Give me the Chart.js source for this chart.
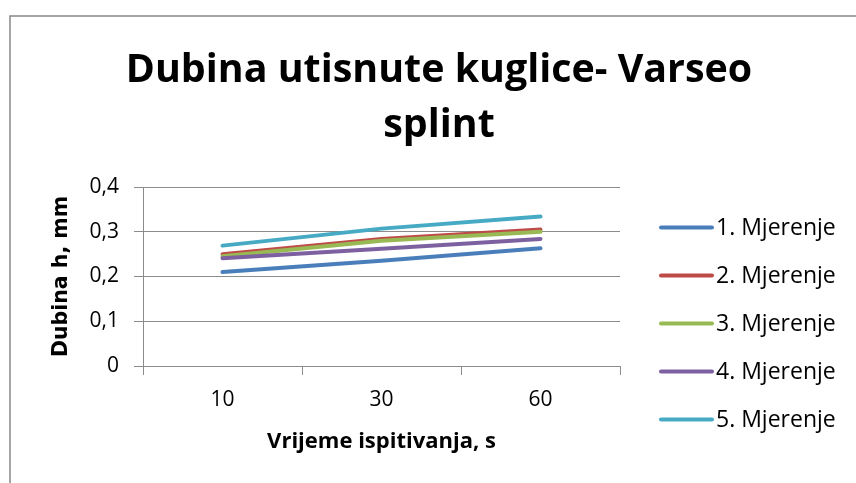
<!DOCTYPE html>
<html><head><meta charset="utf-8">
<script src="https://cdn.jsdelivr.net/npm/chart.js@4"></script>
<style>html,body{margin:0;padding:0;background:#fff}#wrap{width:856px;height:483px;position:relative}</style>
</head><body><div id="wrap"><canvas id="c"></canvas></div>
<script>
const categories = ['10', '30', '60'];
const seriesNames = ['1. Mjerenje', '2. Mjerenje', '3. Mjerenje', '4. Mjerenje', '5. Mjerenje'];
const mjerenje1 = [0.21, 0.235, 0.263];
const mjerenje2 = [0.25, 0.284, 0.305];
const mjerenje3 = [0.245, 0.28, 0.30];
const mjerenje4 = [0.241, 0.262, 0.284];
const mjerenje5 = [0.269, 0.307, 0.334];
const yTickLabels = ['0', '0,1', '0,2', '0,3', '0,4'];
const titleLines = ['Dubina utisnute kuglice- Varseo', 'splint'];
const xTitle = 'Vrijeme ispitivanja, s';
const yTitle = 'Dubina h, mm';

const colors = ['#4A7EBB', '#BE4B48', '#98B954', '#7D60A0', '#46AAC5'];
const values = [mjerenje1, mjerenje2, mjerenje3, mjerenje4, mjerenje5];
const FONT = '"Open Sans", Lato, sans-serif';
const GRID = '#8c8c8c';

const frame = {
  id: 'frame',
  beforeDraw(chart) {
    const ctx = chart.ctx;
    ctx.save();
    ctx.fillStyle = '#fff';
    ctx.fillRect(0, 0, chart.width, chart.height);
    ctx.strokeStyle = '#888';
    ctx.lineWidth = 1.5;
    ctx.beginPath();
    ctx.moveTo(10, chart.height);
    ctx.lineTo(10, 16);
    ctx.lineTo(chart.width, 16);
    ctx.stroke();
    ctx.restore();
  },
  afterDraw(chart) {
    const ctx = chart.ctx;
    ctx.save();
    // title, sized to the reference width
    ctx.fillStyle = '#000';
    ctx.textAlign = 'center';
    ctx.textBaseline = 'alphabetic';
    ctx.font = 'bold 40px ' + FONT;
    const w = ctx.measureText(titleLines[0]).width;
    const size = Math.min(40, 40 * 627 / w);
    ctx.font = 'bold ' + size.toFixed(1) + 'px ' + FONT;
    ctx.fillText(titleLines[0], 439, 82);
    ctx.fillText(titleLines[1], 439, 137);
    // legend
    ctx.font = '23px ' + FONT;
    ctx.textAlign = 'left';
    ctx.textBaseline = 'middle';
    chart.data.datasets.forEach((ds, i) => {
      const y = 227.5 + i * 48;
      ctx.strokeStyle = ds.borderColor;
      ctx.lineWidth = 4;
      ctx.lineCap = 'round';
      ctx.beginPath();
      ctx.moveTo(661, y);
      ctx.lineTo(712, y);
      ctx.stroke();
      ctx.fillStyle = '#000';
      ctx.fillText(ds.label, 716, y + 1);
    });
    ctx.restore();
  }
};

new Chart(document.getElementById('c'), {
  type: 'line',
  data: {
    labels: categories,
    datasets: values.map((v, i) => ({
      label: seriesNames[i],
      data: v,
      borderColor: colors[i],
      backgroundColor: colors[i],
      borderWidth: 4,
      borderCapStyle: 'round',
      pointRadius: 0,
      tension: 0,
      order: -i
    }))
  },
  options: {
    responsive: true,
    maintainAspectRatio: false,
    animation: false,
    events: [],
    layout: { padding: { left: 10, top: 187, right: 236, bottom: 0 } },
    plugins: { legend: { display: false }, title: { display: false }, tooltip: { enabled: false } },
    scales: {
      x: {
        type: 'category',
        offset: true,
        grid: { display: true, drawOnChartArea: false, drawTicks: true, tickLength: 9, color: GRID, offset: true },
        border: { color: GRID },
        ticks: { color: '#000', font: { family: FONT, size: 21 }, padding: 12 },
        title: { display: true, text: xTitle, color: '#000', font: { family: FONT, size: 22, weight: 'bold' }, padding: { top: 0, bottom: 28 } },
        afterFit(s) { s.height = 483 - 366; }
      },
      y: {
        min: 0, max: 0.4,
        ticks: { stepSize: 0.1, color: '#000', font: { family: FONT, size: 21 }, padding: 15,
          callback: (v, i) => yTickLabels[i] },
        grid: { color: GRID, tickLength: 9 },
        border: { color: GRID },
        title: { display: true, text: yTitle, color: '#000', font: { family: '"DejaVu Sans", sans-serif', size: 20.5, weight: 'bold' }, padding: { top: 39, bottom: 0 } },
        afterFit(s) { s.width = 143 - 10; }
      }
    }
  },
  plugins: [frame]
});
</script></body></html>
